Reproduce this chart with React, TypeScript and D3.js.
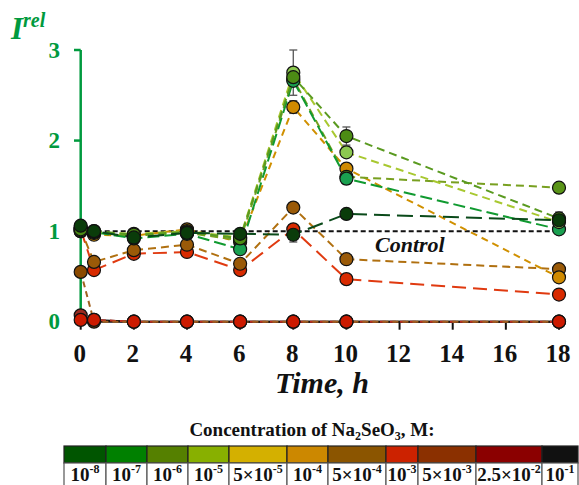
import React, { useEffect, useRef } from "react";
import * as d3 from "d3";

const times = [0, 0.5, 2, 4, 6, 8, 10, 18];
const xTicks = [0, 2, 4, 6, 8, 10, 12, 14, 16, 18];
const yTicks = [0, 1, 2, 3];

const s1e8 = [1.06, 1.0, 0.93, 0.98, 0.97, 0.96, 1.19, 1.12];
const s1e7 = [1.04, 0.99, 0.92, 0.97, 0.8, 2.66, 1.58, 1.02];
const s1e6 = [1.02, 1.0, 0.96, 0.99, 0.92, 2.7, 2.05, 1.14];
const s1e5 = [1.01, 0.99, 0.97, 1.0, 0.93, 2.75, 1.87, 1.1];
const s5e5 = [1.0, 0.98, 0.95, 0.98, 0.9, 2.68, 1.6, 1.48];
const s1e4 = [1.0, 0.96, 0.95, 1.02, 0.88, 2.37, 1.69, 0.49];
const s5e4 = [1.02, 0.66, 0.79, 0.85, 0.64, 1.26, 0.69, 0.58];
const s1e3 = [1.02, 0.57, 0.75, 0.77, 0.57, 1.02, 0.47, 0.3];
const s5e3 = [0.55, 0, 0, 0, 0, 0, 0, 0];
const s25e2 = [0.07, 0.02, 0, 0, 0, 0, 0, 0];
const s1e1 = [0.02, 0.02, 0, 0, 0, 0, 0, 0];

const e1e8 = [0, 0, 0, 0, 0, 0.08, 0.04, 0];
const e1e6 = [0, 0, 0, 0, 0, 0.1, 0.1, 0.07];
const e1e5 = [0, 0, 0, 0, 0, 0.25, 0, 0];
const e5e5 = [0, 0, 0, 0, 0, 0.05, 0.08, 0.05];
const e1e4 = [0, 0, 0, 0, 0, 0.07, 0, 0];

type Series = {
  values: number[];
  errors?: number[];
  line: string;
  fill: string;
  dash: string;
};

const series: Series[] = [
  { values: s1e1, line: "#111111", fill: "#cc1a00", dash: "none" },
  { values: s25e2, line: "#c03020", fill: "#9a2a20", dash: "6,4" },
  { values: s5e3, line: "#a06020", fill: "#8a4a00", dash: "6,4" },
  { values: s1e3, line: "#e03a10", fill: "#d82a00", dash: "14,7" },
  { values: s5e4, line: "#b07010", fill: "#9a5a08", dash: "8,5" },
  { values: s1e4, line: "#d09000", fill: "#d08a00", dash: "7,5", errors: e1e4 },
  { values: s5e5, line: "#78a020", fill: "#5a9418", dash: "8,5", errors: e5e5 },
  { values: s1e7, line: "#109a30", fill: "#1aa050", dash: "12,5" },
  { values: s1e5, line: "#a8c830", fill: "#8cc850", dash: "8,5", errors: e1e5 },
  { values: s1e6, line: "#5a9a20", fill: "#4c8c14", dash: "8,5", errors: e1e6 },
  { values: s1e8, line: "#0a4a1a", fill: "#0a3c0a", dash: "16,7", errors: e1e8 },
];

const legendLabels = [
  ["10", "-8"],
  ["10", "-7"],
  ["10", "-6"],
  ["10", "-5"],
  ["5×10", "-5"],
  ["10", "-4"],
  ["5×10", "-4"],
  ["10", "-3"],
  ["5×10", "-3"],
  ["2.5×10", "-2"],
  ["10", "-1"],
];
const legendColors = [
  "#005500",
  "#008000",
  "#558000",
  "#88b000",
  "#d4b000",
  "#cc8800",
  "#8b5500",
  "#cc2200",
  "#8b3000",
  "#8b0000",
  "#111111",
];
const legendEdges = [64, 106, 147, 188, 229, 287, 328, 386, 418, 476, 542, 578];

const GREEN = "#009a3e";
const FONT = '"Times New Roman", "Liberation Serif", serif';
const tf = { fontFamily: FONT };

export default function App() {
  const ref = useRef<SVGSVGElement>(null);
  const x = d3.scaleLinear().domain([0, 18]).range([80.7, 559]);
  const y = d3.scaleLinear().domain([0, 3]).range([321.7, 50]);
  const line = d3
    .line<number>()
    .x((_, i) => x(times[i]))
    .y((v) => y(v));

  useEffect(() => {
    if (ref.current) {
      d3.select(ref.current).selectAll("text").style("font-family", FONT);
    }
  }, []);

  return (
    <svg ref={ref} width={579} height={485} style={{ position: "absolute", left: 0, top: 0, background: "#fff" }}>
      {/* Y axis */}
      <line x1={80.7} x2={80.7} y1={y(3)} y2={y(0) + 4} stroke={GREEN} strokeWidth={2.5} />
      {yTicks.map((t) => (
        <g key={"yt" + t}>
          <line x1={74} x2={80.7} y1={y(t)} y2={y(t)} stroke={GREEN} strokeWidth={2.5} />
          <text x={60} y={y(t) + 7.5} textAnchor="end" fontSize={23} fontWeight="bold" fill={GREEN} style={tf}>
            {t}
          </text>
        </g>
      ))}
      <text x={11} y={39} fill={GREEN} fontWeight="bold" fontStyle="italic" style={tf}>
        <tspan fontSize={31}>I</tspan>
        <tspan fontSize={20} dy={-12}>rel</tspan>
      </text>

      {/* X axis */}
      <line x1={78} x2={560} y1={y(0)} y2={y(0)} stroke="#111" strokeWidth={2} />
      {xTicks.map((t) => (
        <g key={"xt" + t}>
          <line x1={x(t)} x2={x(t)} y1={y(0)} y2={y(0) + 8} stroke="#111" strokeWidth={2} />
          <text x={x(t) - 1} y={362} textAnchor="middle" fontSize={25} fontWeight="bold" fill="#111" style={tf}>
            {t}
          </text>
        </g>
      ))}
      <text x={322} y={393} textAnchor="middle" fontSize={30} fontWeight="bold" fontStyle="italic" fill="#111" style={tf}>
        Time, h
      </text>

      {/* Control */}
      <line x1={80.7} x2={559} y1={y(1)} y2={y(1)} stroke="#111" strokeWidth={2} strokeDasharray="5,3" />
      <text x={375} y={252} fontSize={22} fontWeight="bold" fontStyle="italic" fill="#111" style={tf}>
        Control
      </text>

      {/* Series lines */}
      {series.map((s, k) => (
        <path
          key={"l" + k}
          d={line(s.values) || ""}
          fill="none"
          stroke={s.line}
          strokeWidth={2}
          strokeDasharray={s.dash}
        />
      ))}

      {/* Error bars */}
      {series.map((s, k) =>
        s.errors
          ? s.errors.map((e, i) =>
              e > 0 ? (
                <g key={"e" + k + "-" + i} stroke="#555" strokeWidth={1.3}>
                  <line x1={x(times[i])} x2={x(times[i])} y1={y(s.values[i] + e)} y2={y(s.values[i] - e)} />
                  <line x1={x(times[i]) - 4} x2={x(times[i]) + 4} y1={y(s.values[i] + e)} y2={y(s.values[i] + e)} />
                  <line x1={x(times[i]) - 4} x2={x(times[i]) + 4} y1={y(s.values[i] - e)} y2={y(s.values[i] - e)} />
                </g>
              ) : null
            )
          : null
      )}

      {/* Markers */}
      {[...series.slice(1), series[0]].map((s, k) =>
        s.values.map((v, i) => (
          <circle
            key={"m" + k + "-" + i}
            cx={x(times[i])}
            cy={y(v)}
            r={6.5}
            fill={s.fill}
            stroke="#111"
            strokeWidth={1.2}
          />
        ))
      )}

      {/* Legend */}
      <text x={312} y={436} textAnchor="middle" fontSize={19} fontWeight="bold" fill="#111" style={tf}>
        Concentration of Na
        <tspan fontSize={12} dy={4}>2</tspan>
        <tspan dy={-4}>SeO</tspan>
        <tspan fontSize={12} dy={4}>3</tspan>
        <tspan dy={-4}>, M:</tspan>
      </text>
      {legendColors.map((c, i) => (
        <rect
          key={"lc" + i}
          x={legendEdges[i]}
          y={446}
          width={legendEdges[i + 1] - legendEdges[i]}
          height={17}
          fill={c}
          stroke="#222"
          strokeWidth={1.2}
        />
      ))}
      {legendLabels.map((lab, i) => {
        const cx = (legendEdges[i] + legendEdges[i + 1]) / 2;
        return (
          <g key={"ll" + i}>
            <rect
              x={legendEdges[i]}
              y={463}
              width={legendEdges[i + 1] - legendEdges[i]}
              height={24}
              fill="#fff"
              stroke="#555"
              strokeWidth={1.2}
            />
            <text x={cx} y={481} textAnchor="middle" fontSize={19} fontWeight="bold" fill="#111" style={tf}>
              {lab[0]}
              <tspan fontSize={12} dy={-8}>{lab[1]}</tspan>
            </text>
          </g>
        );
      })}
    </svg>
  );
}
